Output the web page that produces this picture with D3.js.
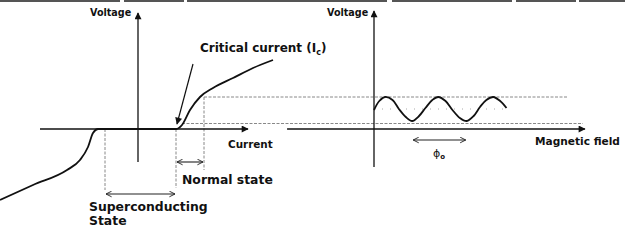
<!DOCTYPE html>
<html lang="en">
<head>
<meta charset="UTF-8">
<title>IV curve and SQUID</title>
<script src="https://cdn.jsdelivr.net/npm/d3@7"></script>
<style>
    body { margin: 0; background: #fff; }
    text { font-family: "DejaVu Sans", Verdana, sans-serif; font-weight: bold; fill: #111; }
</style>
</head>
<body>
<div id="chart"></div>
<script>
    // I-V curve of the junction (current, voltage)
    const ivCurrent = [-13.8, -10.5, -7.1, -5.8, -5.0, -4.5, -4.0, -3.5, 3.8, 4.4, 5.2, 6.2, 7.5, 9.5, 11.5, 13.5];
    const ivVoltage = [-7.1, -5.6, -4.1, -3.1, -1.8, -0.4, 0, 0, 0, 0.4, 1.9, 3.2, 4.1, 5.1, 6.1, 6.9];
    const criticalCurrent = 3.8;
    const negCritical = -3.3;
    const normalEdge = 6.6;

    // voltage against magnetic field (in flux quanta)
    const fieldB = [0, 0.1, 0.21, 0.35, 0.47, 0.6, 0.72, 0.85, 0.97, 1.1, 1.21, 1.35, 1.48, 1.62, 1.75, 1.88, 2.0, 2.12, 2.25, 2.38, 2.5];
    const fieldV = [1.9, 2.8, 3.2, 2.9, 2.0, 1.2, 0.8, 1.3, 2.1, 2.9, 3.2, 2.8, 1.9, 1.1, 0.8, 1.3, 2.2, 2.9, 3.2, 2.8, 2.1];
    const vHigh = 3.2, vLow = 0.55, vMid = 2.0;
    const phiStart = 0.72, phiEnd = 1.75;

    const width = 625, height = 251;
    const svg = d3.select("#chart").append("svg").attr("width", width).attr("height", height);

    // scales: 10 px per unit on the left, 53 px per flux quantum on the right
    const xI = d3.scaleLinear().domain([-10, 10]).range([38, 238]);
    const yV = d3.scaleLinear().domain([-10, 10]).range([229, 29]);
    const xB = d3.scaleLinear().domain([0, 1]).range([374, 427]);

    const defs = svg.append("defs");
    defs.append("marker").attr("id", "tri").attr("viewBox", "0 0 10 10").attr("refX", 9).attr("refY", 5)
        .attr("markerWidth", 8).attr("markerHeight", 7).attr("markerUnits", "userSpaceOnUse").attr("orient", "auto")
        .append("path").attr("d", "M0,0L10,5L0,10z").attr("fill", "#111");
    defs.append("marker").attr("id", "open").attr("viewBox", "0 0 10 10").attr("refX", 9).attr("refY", 5)
        .attr("markerWidth", 7).attr("markerHeight", 7).attr("markerUnits", "userSpaceOnUse").attr("orient", "auto-start-reverse")
        .append("path").attr("d", "M1,1L9,5L1,9").attr("fill", "none").attr("stroke", "#222").attr("stroke-width", 1.3);

    // top border of the scan
    svg.append("line").attr("x1", 0).attr("x2", width).attr("y1", 1).attr("y2", 1)
        .attr("stroke", "#555").attr("stroke-width", 2).attr("stroke-dasharray", "120,4,60,3,200,5");

    const line = (x1, y1, x2, y2) => svg.append("line").attr("x1", x1).attr("y1", y1).attr("x2", x2).attr("y2", y2);
    const dash = (x1, y1, x2, y2) => line(x1, y1, x2, y2).attr("stroke", "#888").attr("stroke-width", 1).attr("stroke-dasharray", "3,1.5");

    // guide lines
    dash(xI(normalEdge), yV(vHigh), 567, yV(vHigh));
    dash(xI(4.4), yV(vLow), 583, yV(vLow));
    dash(xI(negCritical), yV(0), xI(negCritical), 190);
    dash(xI(criticalCurrent), yV(0), xI(criticalCurrent), 188);
    dash(xI(normalEdge), yV(vHigh), xI(normalEdge), 170);
    svg.append("line").attr("x1", xB(0)).attr("x2", xB(2.55)).attr("y1", yV(vMid)).attr("y2", yV(vMid))
        .attr("stroke", "#aaa").attr("stroke-width", 1).attr("stroke-dasharray", "1,7");

    // axes
    line(xI(-9.8), yV(0), xI(11), yV(0)).attr("stroke", "#111").attr("stroke-width", 1.3).attr("marker-end", "url(#tri)");
    line(xI(0), yV(-3.3), xI(0), yV(11.6)).attr("stroke", "#111").attr("stroke-width", 1.3).attr("marker-end", "url(#tri)");
    line(xB(-1.64), yV(0), xB(3.98), yV(0)).attr("stroke", "#111").attr("stroke-width", 1.3).attr("marker-end", "url(#tri)");
    line(xB(0), yV(-3.8), xB(0), yV(11.8)).attr("stroke", "#111").attr("stroke-width", 1.3).attr("marker-end", "url(#tri)");

    // I-V curve
    const ivPts = ivCurrent.map((c, i) => [c, ivVoltage[i]]);
    svg.append("path").datum(ivPts)
        .attr("d", d3.line().x(d => xI(d[0])).y(d => yV(d[1])).curve(d3.curveMonotoneX))
        .attr("fill", "none").attr("stroke", "#111").attr("stroke-width", 1.8);

    // SQUID oscillation
    const bPts = fieldB.map((b, i) => [b, fieldV[i]]);
    svg.append("path").datum(bPts)
        .attr("d", d3.line().x(d => xB(d[0])).y(d => yV(d[1])).curve(d3.curveCatmullRom))
        .attr("fill", "none").attr("stroke", "#111").attr("stroke-width", 1.8);

    // critical current pointer
    line(193, 64, xI(criticalCurrent) + 1, yV(0) - 5).attr("stroke", "#111").attr("stroke-width", 1.2).attr("marker-end", "url(#tri)");

    // double arrows
    const dbl = (x1, x2, y) => line(x1 + 1, y, x2 - 1, y).attr("stroke", "#222").attr("stroke-width", 1.1)
        .attr("marker-start", "url(#open)").attr("marker-end", "url(#open)");
    dbl(xI(criticalCurrent), xI(normalEdge), 162);
    dbl(xI(negCritical), xI(criticalCurrent), 194);
    dbl(xB(phiStart), xB(phiEnd), 140);

    // labels
    const label = (t, x, y, size) => svg.append("text").attr("x", x).attr("y", y).style("font-size", size + "px").text(t);
    label("Voltage", 90, 16, 9.6);
    label("Voltage", 327, 16, 9.6);
    label("Current", 228, 148, 10.4);
    label("Magnetic field", 535, 145, 10.6);
    label("Normal state", 182, 184, 12.4);
    label("Superconducting", 89, 211, 12.4);
    label("State", 89, 225, 12.4);
    const cc = label("Critical current (", 200, 52, 12);
    cc.append("tspan").text("I");
    cc.append("tspan").attr("dy", 3).style("font-size", "8px").text("c");
    cc.append("tspan").attr("dy", -3).text(")");
    const phi = svg.append("text").attr("x", 433).attr("y", 157).style("font-size", "11px").style("font-weight", "normal").text("ϕ");
    phi.append("tspan").attr("dy", 2).style("font-size", "7px").style("font-weight", "bold").text("o");
</script>
</body>
</html>
